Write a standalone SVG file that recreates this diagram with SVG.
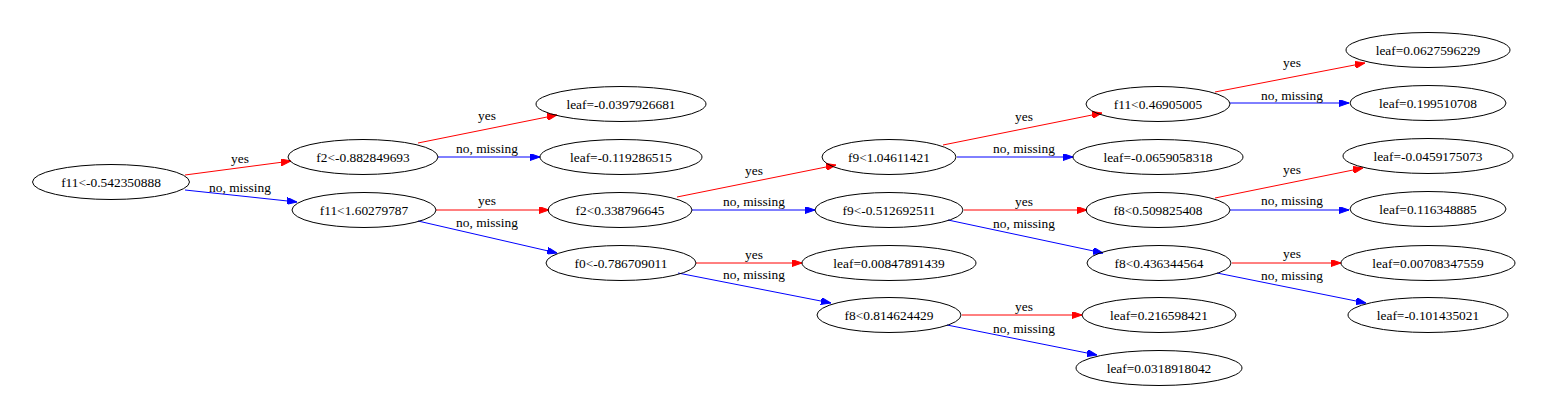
<svg xmlns="http://www.w3.org/2000/svg" width="1548" height="420" viewBox="0 0 1548 420">
<style>
.n ellipse{fill:none;stroke:#000;stroke-width:1}
text{font-family:"Liberation Serif","Times New Roman",serif;font-size:13.4px;fill:#000;text-anchor:middle}
.y{stroke:#ff0000;stroke-width:1;fill:none;marker-end:url(#ar)}
.no{stroke:#0000ff;stroke-width:1;fill:none;marker-end:url(#ab)}
</style>
<defs>
<marker id="ar" markerWidth="10" markerHeight="7" refX="10" refY="3.5" orient="auto" markerUnits="userSpaceOnUse"><path d="M0,0 L10,3.5 L0,7 z" fill="#ff0000" stroke="#ff0000" stroke-width="1"/></marker>
<marker id="ab" markerWidth="10" markerHeight="7" refX="10" refY="3.5" orient="auto" markerUnits="userSpaceOnUse"><path d="M0,0 L10,3.5 L0,7 z" fill="#0000ff" stroke="#0000ff" stroke-width="1"/></marker>
</defs>
<rect width="1548" height="420" fill="#fff"/>
<g id="edges">
<line class="y" x1="185" y1="175" x2="291" y2="161"/><text x="240" y="163">yes</text>
<line class="no" x1="185" y1="190" x2="297" y2="202"/><text x="240" y="192">no, missing</text>
<line class="y" x1="418" y1="143" x2="557" y2="115"/><text x="487" y="120">yes</text>
<line class="no" x1="438" y1="157" x2="540" y2="157"/><text x="487" y="153">no, missing</text>
<line class="y" x1="436" y1="210" x2="549" y2="210"/><text x="487" y="205">yes</text>
<line class="no" x1="418" y1="221" x2="557" y2="253"/><text x="487" y="227">no, missing</text>
<line class="y" x1="677" y1="197" x2="836" y2="165"/><text x="754" y="175">yes</text>
<line class="no" x1="692" y1="210" x2="815" y2="210"/><text x="754" y="206">no, missing</text>
<line class="y" x1="696" y1="263" x2="802" y2="263"/><text x="754" y="259">yes</text>
<line class="no" x1="678" y1="273" x2="831" y2="303"/><text x="754" y="279">no, missing</text>
<line class="y" x1="943" y1="145" x2="1102" y2="113"/><text x="1024" y="121">yes</text>
<line class="no" x1="957" y1="157" x2="1073" y2="157"/><text x="1024" y="153">no, missing</text>
<line class="y" x1="964" y1="210" x2="1087" y2="210"/><text x="1024" y="206">yes</text>
<line class="no" x1="948" y1="220" x2="1103" y2="253"/><text x="1024" y="228">no, missing</text>
<line class="y" x1="962" y1="315" x2="1082" y2="315"/><text x="1024" y="311">yes</text>
<line class="no" x1="947" y1="325" x2="1097" y2="355"/><text x="1024" y="333">no, missing</text>
<line class="y" x1="1215" y1="92" x2="1365" y2="63"/><text x="1292" y="67">yes</text>
<line class="no" x1="1230" y1="103" x2="1349" y2="103"/><text x="1292" y="100">no, missing</text>
<line class="y" x1="1215" y1="198" x2="1363" y2="168"/><text x="1292" y="174">yes</text>
<line class="no" x1="1230" y1="210" x2="1349" y2="210"/><text x="1292" y="205">no, missing</text>
<line class="y" x1="1232" y1="263" x2="1341" y2="263"/><text x="1292" y="258">yes</text>
<line class="no" x1="1217" y1="273" x2="1366" y2="303"/><text x="1292" y="280">no, missing</text>
</g>
<g id="n0" class="n"><ellipse cx="111" cy="182" rx="78.5" ry="17.5"/><text x="111" y="186.5">f11&lt;-0.542350888</text></g>
<g id="n1" class="n"><ellipse cx="363" cy="157" rx="75" ry="17.5"/><text x="363" y="161.5">f2&lt;-0.882849693</text></g>
<g id="n2" class="n"><ellipse cx="364" cy="210" rx="72" ry="17.5"/><text x="364" y="214.5">f11&lt;1.60279787</text></g>
<g id="n3" class="n"><ellipse cx="621" cy="104" rx="85" ry="17.5"/><text x="621" y="108.5">leaf=-0.0397926681</text></g>
<g id="n4" class="n"><ellipse cx="621" cy="157" rx="81" ry="17.5"/><text x="621" y="161.5">leaf=-0.119286515</text></g>
<g id="n5" class="n"><ellipse cx="620" cy="210" rx="72" ry="17.5"/><text x="620" y="214.5">f2&lt;0.338796645</text></g>
<g id="n6" class="n"><ellipse cx="621" cy="263" rx="75" ry="17.5"/><text x="621" y="267.5">f0&lt;-0.786709011</text></g>
<g id="n7" class="n"><ellipse cx="889" cy="157" rx="67" ry="17.5"/><text x="889" y="161.5">f9&lt;1.04611421</text></g>
<g id="n8" class="n"><ellipse cx="889" cy="210" rx="74" ry="17.5"/><text x="889" y="214.5">f9&lt;-0.512692511</text></g>
<g id="n9" class="n"><ellipse cx="889" cy="263" rx="87" ry="17.5"/><text x="889" y="267.5">leaf=0.00847891439</text></g>
<g id="n10" class="n"><ellipse cx="889" cy="315" rx="72" ry="17.5"/><text x="889" y="319.5">f8&lt;0.814624429</text></g>
<g id="n11" class="n"><ellipse cx="1158" cy="104" rx="72" ry="17.5"/><text x="1158" y="108.5">f11&lt;0.46905005</text></g>
<g id="n12" class="n"><ellipse cx="1158" cy="157" rx="85" ry="17.5"/><text x="1158" y="161.5">leaf=-0.0659058318</text></g>
<g id="n13" class="n"><ellipse cx="1158" cy="210" rx="72" ry="17.5"/><text x="1158" y="214.5">f8&lt;0.509825408</text></g>
<g id="n14" class="n"><ellipse cx="1159" cy="263" rx="72" ry="17.5"/><text x="1159" y="267.5">f8&lt;0.436344564</text></g>
<g id="n15" class="n"><ellipse cx="1159" cy="315" rx="77" ry="17.5"/><text x="1159" y="319.5">leaf=0.216598421</text></g>
<g id="n16" class="n"><ellipse cx="1159" cy="368" rx="83" ry="17.5"/><text x="1159" y="372.5">leaf=0.0318918042</text></g>
<g id="n17" class="n"><ellipse cx="1428" cy="50" rx="82" ry="17.5"/><text x="1428" y="54.5">leaf=0.0627596229</text></g>
<g id="n18" class="n"><ellipse cx="1428" cy="103" rx="78" ry="17.5"/><text x="1428" y="107.5">leaf=0.199510708</text></g>
<g id="n19" class="n"><ellipse cx="1428" cy="156" rx="85" ry="17.5"/><text x="1428" y="160.5">leaf=-0.0459175073</text></g>
<g id="n20" class="n"><ellipse cx="1428" cy="209" rx="78" ry="17.5"/><text x="1428" y="213.5">leaf=0.116348885</text></g>
<g id="n21" class="n"><ellipse cx="1428" cy="263" rx="87" ry="17.5"/><text x="1428" y="267.5">leaf=0.00708347559</text></g>
<g id="n22" class="n"><ellipse cx="1428" cy="315" rx="80" ry="17.5"/><text x="1428" y="319.5">leaf=-0.101435021</text></g>
</svg>
